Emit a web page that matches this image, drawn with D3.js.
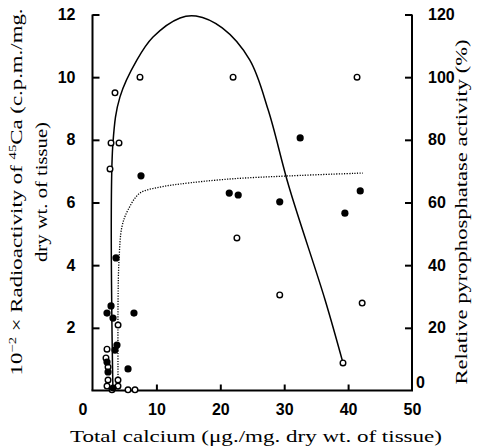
<!DOCTYPE html>
<html><head><meta charset="utf-8">
<script src="https://cdn.jsdelivr.net/npm/d3@7"></script>
<style>body{margin:0;background:#fff}svg{display:block}</style>
</head><body>
<script>
// Data
const xTicks = [0, 10, 20, 30, 40, 50];
const leftTicks = [2, 4, 6, 8, 10, 12];
const rightTicks = [0, 20, 40, 60, 80, 100, 120];
// Filled circles: radioactivity (left axis, x10^2 c.p.m./mg)
const filledX = [7.59, 3.68, 2.9, 2.27, 6.49, 3.21, 3.83, 3.52, 2.27, 2.43, 5.56, 3.21, 21.4, 22.8, 29.3, 32.5, 39.5, 41.9];
const filledY = [6.85, 4.23, 2.70, 2.47, 2.47, 2.31, 1.45, 1.29, 0.91, 0.59, 0.69, 0.08, 6.30, 6.24, 6.02, 8.06, 5.66, 6.37];
// Open circles: relative pyrophosphatase activity (right axis, %)
const openX = [3.52, 7.43, 2.9, 4.15, 2.74, 22.0, 41.4, 22.6, 29.3, 42.2, 39.2, 4.0, 2.27, 2.11, 2.43, 2.43, 3.99, 2.27, 3.99, 3.05, 5.56, 6.65];
const openY = [95, 100, 79, 79, 70.7, 100, 100, 48.7, 30.5, 27.9, 8.8, 20.9, 13.2, 10.4, 7.5, 3.35, 3.35, 1.4, 1.4, 0.2, 0.2, 0.2];
// Solid curve (right axis, %)
const solidX = [3.2, 3.2, 4.3, 6.96, 9.47, 13.7, 16.2, 20.3, 24.6, 27.5, 30.75, 36.4, 39.2];
const solidY = [0, 79, 93.7, 105.5, 112.8, 118.9, 119.5, 115.7, 105.5, 89.5, 65, 28.9, 8.8];
// Dotted curve (left axis)
const dotX = [4.0, 4.0, 4.15, 4.6, 5.55, 7.43, 10.56, 13.7, 21.5, 30.9, 42.3];
const dotY = [0, 2.89, 4.16, 5.22, 5.76, 6.3, 6.49, 6.59, 6.75, 6.85, 6.94];

const W = 480, H = 447;
const svg = d3.select("body").append("svg").attr("width", W).attr("height", H);
const x = d3.scaleLinear().domain([0, 50]).range([92.5, 412]);
const yL = d3.scaleLinear().domain([0, 12]).range([390.5, 14.5]);
const yR = d3.scaleLinear().domain([0, 120]).range([390.5, 14.5]);

const tickFont = "'Liberation Sans', Arial, sans-serif";
const titleFont = "'Liberation Serif', 'DejaVu Serif', serif";

// Axes frame lines
const g = svg.append("g");
g.append("line").attr("x1", x(0)).attr("x2", x(0)).attr("y1", yL(12)).attr("y2", yL(0)).attr("stroke", "#000").attr("stroke-width", 2);
g.append("line").attr("x1", x(50)).attr("x2", x(50)).attr("y1", yL(12)).attr("y2", yL(0)).attr("stroke", "#000").attr("stroke-width", 2);
g.append("line").attr("x1", x(0) - 1).attr("x2", x(50) + 1).attr("y1", yL(0)).attr("y2", yL(0)).attr("stroke", "#000").attr("stroke-width", 2);

function styleText(sel) {
  sel.selectAll("text").attr("font-family", tickFont).attr("font-weight", "bold").attr("font-size", 16).attr("fill", "#000");
}

// Left axis
const axL = d3.axisLeft(yL).tickValues(leftTicks).tickSize(-7).tickPadding(17).tickFormat(d3.format("d"));
const gL = svg.append("g").attr("transform", `translate(${x(0)},0)`).call(axL);
gL.select(".domain").remove();
gL.selectAll(".tick line").attr("stroke", "#000").attr("stroke-width", 2);
styleText(gL);

// Right axis
const axR = d3.axisRight(yR).tickValues(rightTicks).tickSize(-7).tickPadding(16).tickFormat(d3.format("d"));
const gR = svg.append("g").attr("transform", `translate(${x(50)},0)`).call(axR);
gR.select(".domain").remove();
gR.selectAll(".tick line").attr("stroke", "#000").attr("stroke-width", 2).filter(d => d === 0).remove();
styleText(gR);
gR.selectAll(".tick").filter(d => d === 0).select("text").attr("x", 4).attr("dy", "-0.2em");

// Bottom axis
const axB = d3.axisBottom(x).tickValues(xTicks).tickSize(-6).tickPadding(13).tickFormat(d3.format("d"));
const gB = svg.append("g").attr("transform", `translate(0,${yL(0)})`).call(axB);
gB.select(".domain").remove();
gB.selectAll(".tick line").attr("stroke", "#000").attr("stroke-width", 2).filter(d => d === 0 || d === 50).remove();
styleText(gB);
gB.selectAll(".tick").filter(d => d === 0).select("text").attr("x", -10);

// Curves
const solidPts = solidX.map((v, i) => [x(v), yR(solidY[i])]);
svg.append("path").attr("d", d3.line().curve(d3.curveCatmullRom.alpha(0.5))(solidPts))
  .attr("fill", "none").attr("stroke", "#000").attr("stroke-width", 1.5);
const dotPts = dotX.map((v, i) => [x(v), yL(dotY[i])]);
svg.append("path").attr("d", d3.line().curve(d3.curveCatmullRom.alpha(0.5))(dotPts))
  .attr("fill", "none").attr("stroke", "#000").attr("stroke-width", 1.3).attr("stroke-dasharray", "1.2,1.4");

// Points
svg.append("g").selectAll("circle").data(openX.map((v, i) => [v, openY[i]])).join("circle")
  .attr("cx", d => x(d[0])).attr("cy", d => yR(d[1])).attr("r", 2.8)
  .attr("fill", "#fff").attr("stroke", "#000").attr("stroke-width", 1.4);
svg.append("g").selectAll("circle").data(filledX.map((v, i) => [v, filledY[i]])).join("circle")
  .attr("cx", d => x(d[0])).attr("cy", d => yL(d[1])).attr("r", 3.6).attr("fill", "#000");

// Titles
svg.append("text").attr("x", 256).attr("y", 442).attr("text-anchor", "middle")
  .attr("font-family", titleFont).attr("font-size", 17).attr("fill", "#000")
  .attr("textLength", 372).attr("lengthAdjust", "spacingAndGlyphs")
  .text("Total calcium (μg./mg. dry wt. of tissue)");

const lt = svg.append("text").attr("transform", "translate(22,192) rotate(-90)").attr("text-anchor", "middle")
  .attr("font-family", titleFont).attr("font-size", 17).attr("fill", "#000")
  .attr("textLength", 367).attr("lengthAdjust", "spacingAndGlyphs");
lt.append("tspan").text("10");
lt.append("tspan").attr("dy", -6).attr("font-size", 11).text("−2");
lt.append("tspan").attr("dy", 6).text(" × Radioactivity of ");
lt.append("tspan").attr("dy", -6).attr("font-size", 11).text("45");
lt.append("tspan").attr("dy", 6).text("Ca (c.p.m./mg.");
svg.append("text").attr("transform", "translate(47,192) rotate(-90)").attr("text-anchor", "middle")
  .attr("font-family", titleFont).attr("font-size", 17).attr("fill", "#000")
  .attr("textLength", 140).attr("lengthAdjust", "spacingAndGlyphs")
  .text("dry wt. of tissue)");

svg.append("text").attr("transform", "translate(467,212) rotate(-90)").attr("text-anchor", "middle")
  .attr("font-family", titleFont).attr("font-size", 17).attr("fill", "#000")
  .attr("textLength", 345).attr("lengthAdjust", "spacingAndGlyphs")
  .text("Relative pyrophosphatase activity (%)");
</script>
</body></html>
